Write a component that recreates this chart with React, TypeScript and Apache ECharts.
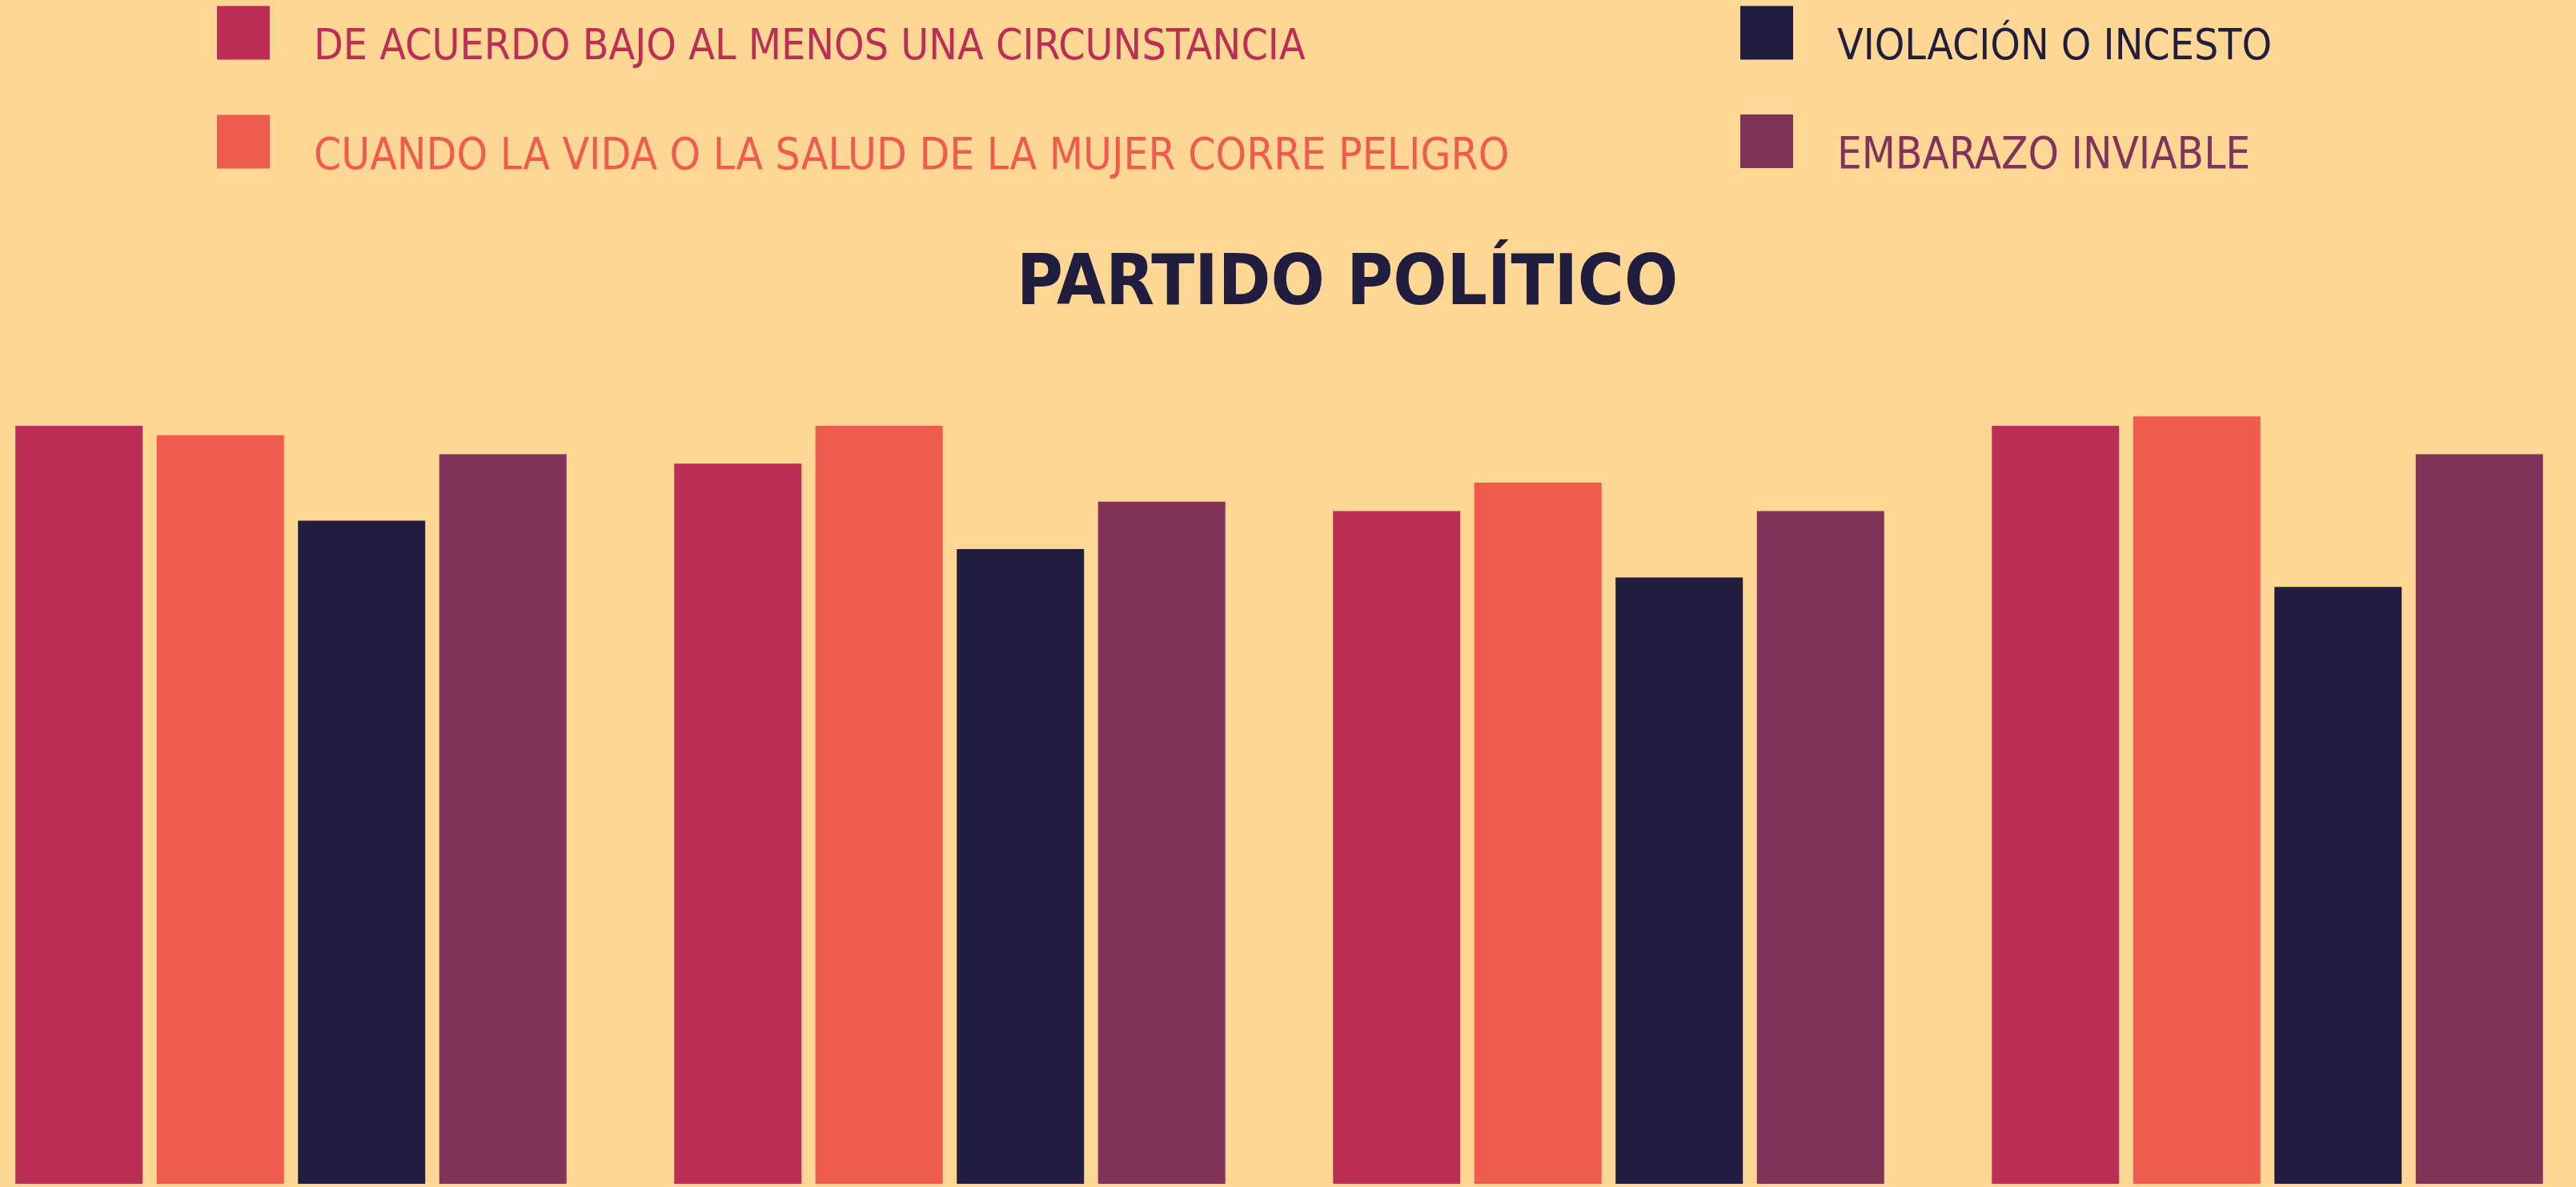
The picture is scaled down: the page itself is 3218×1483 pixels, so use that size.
import React, { useEffect, useRef } from "react";
import * as echarts from "echarts";

const categories = ["Partido A", "Partido B", "Partido C", "Partido D"];
const seriesNames = [
  "DE ACUERDO BAJO AL MENOS UNA CIRCUNSTANCIA",
  "CUANDO LA VIDA O LA SALUD DE LA MUJER CORRE PELIGRO",
  "VIOLACIÓN O INCESTO",
  "EMBARAZO INVIABLE",
];
const alMenosUna = [80, 76, 71, 80];
const vidaSalud = [79, 80, 74, 81];
const violacion = [70, 67, 64, 63];
const inviable = [77, 72, 71, 77];
const seriesValues = [alMenosUna, vidaSalud, violacion, inviable];
const colors = ["#BC2E56", "#EF5B4F", "#211D3E", "#82335B"];
const legendFontSizes = [53.2, 54.6, 53.1, 54.3];
const titleText = "PARTIDO POLÍTICO";

const BG = "#FFD795";
const LEGEND_FONT = "'DejaVu Sans Condensed', 'Liberation Sans Narrow', sans-serif";
const OFFSET = 48; // chart canvas starts 48px left of the page

export default function App() {
  const ref = useRef<HTMLDivElement>(null);
  useEffect(() => {
    document.body.style.margin = "0";
    document.body.style.background = BG;
    document.body.style.overflow = "hidden";
    if (!ref.current) return;
    const chart = echarts.init(ref.current, null, { renderer: "svg" });
    const legendItem = (i: number) => ({
      name: seriesNames[i],
      textStyle: { color: colors[i], fontSize: legendFontSizes[i] },
    });
    const legendBase = {
      orient: "vertical",
      top: 0,
      padding: 0,
      itemWidth: 66,
      itemHeight: 67,
      itemGap: 53,
      icon: "rect",
      selectedMode: false,
      formatter: (name: string) => "\n" + name,
      textStyle: {
        fontFamily: LEGEND_FONT,
        fontSize: 53.5,
        lineHeight: 29,
        padding: [0, 0, 0, 50],
      },
    };
    chart.setOption({
      animation: false,
      backgroundColor: BG,
      title: {
        text: titleText,
        left: 1270 + OFFSET,
        top: 305,
        padding: 0,
        textStyle: {
          fontFamily: "'DejaVu Sans Condensed', sans-serif",
          fontWeight: "bold",
          fontSize: 88,
          lineHeight: 88,
          color: "#211D3E",
        },
      },
      legend: [
        { ...legendBase, left: 271 + OFFSET, data: [legendItem(0), legendItem(1)] },
        { ...legendBase, left: 2174 + OFFSET, data: [legendItem(2), legendItem(3)] },
      ],
      grid: { left: 0, right: 0, top: 295.25, bottom: 4, containLabel: false },
      xAxis: {
        type: "category",
        data: categories,
        show: false,
      },
      yAxis: { type: "value", min: 0, max: 100, show: false },
      series: seriesValues.map((vals, i) => ({
        name: seriesNames[i],
        type: "bar",
        data: vals,
        barWidth: 159,
        barGap: "11%",
        itemStyle: { color: colors[i] },
      })),
    });
    return () => chart.dispose();
  }, []);
  return (
    <div style={{ position: "relative", width: 3218, height: 1483, overflow: "hidden", background: BG }}>
      <div ref={ref} style={{ position: "absolute", left: -OFFSET, top: 0, width: 3292, height: 1483 }} />
    </div>
  );
}
